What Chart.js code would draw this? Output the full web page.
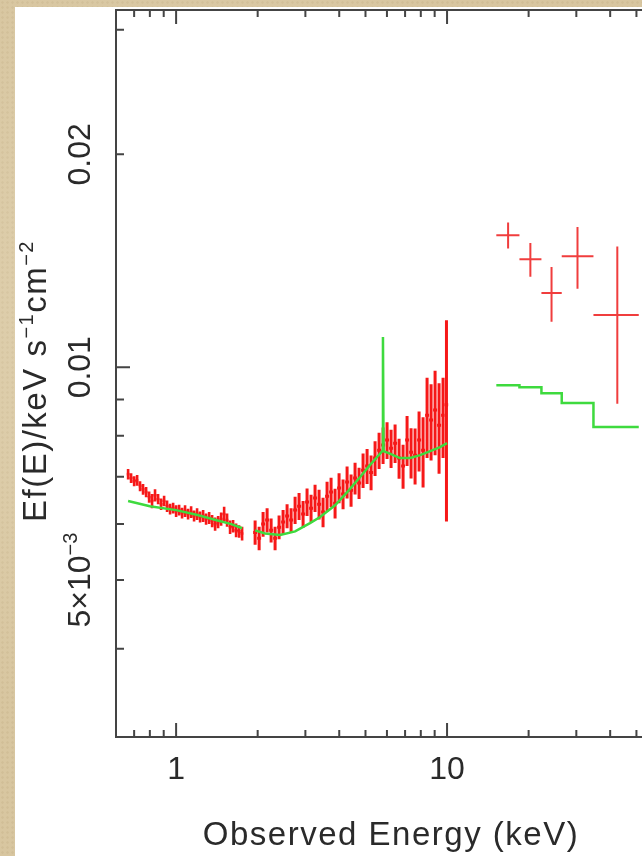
<!DOCTYPE html>
<html>
<head>
<meta charset="utf-8">
<script src="https://cdn.jsdelivr.net/npm/chart.js@4.4.1/dist/chart.umd.min.js"></script>
<style>
  html, body { margin: 0; padding: 0; width: 642px; height: 856px; overflow: hidden; }
  body {
    background-color: #d8c6a0;
    background-image:
      radial-gradient(circle at 30% 40%, rgba(255,250,235,0.25) 0, transparent 60%),
      radial-gradient(rgba(120,90,40,0.07) 1px, transparent 1.5px);
    background-size: 100% 100%, 5px 5px;
    position: relative;
  }
  #c { position: absolute; left: 15px; top: 7px; background: #ffffff; }
</style>
</head>
<body>
<canvas id="c" width="740" height="849"></canvas>
<script>
// ---------------- data ----------------
// soft band, first instrument segment (keV, Ef(E), 1-sigma)
const seg1Energy = [0.665,0.682,0.700,0.718,0.736,0.755,0.775,0.795,0.815,0.836,0.858,0.880,0.903,0.926,0.950,0.975,1.000,1.026,1.052,1.079,1.107,1.136,1.165,1.195,1.226,1.258,1.290,1.324,1.358,1.393,1.429,1.466,1.504,1.542,1.582,1.623,1.665,1.708,1.752];
const seg1Flux   = [0.00706,0.00697,0.00690,0.00692,0.00679,0.00672,0.00666,0.00655,0.00647,0.00659,0.00651,0.00640,0.00647,0.00636,0.00630,0.00632,0.00626,0.00628,0.00622,0.00626,0.00620,0.00624,0.00616,0.00620,0.00614,0.00616,0.00610,0.00612,0.00606,0.00600,0.00604,0.00610,0.00620,0.00608,0.00594,0.00596,0.00588,0.00586,0.00582];
const seg1Err    = [0.00012,0.00011,0.00011,0.00012,0.00011,0.00012,0.00011,0.00012,0.00015,0.00013,0.00011,0.00012,0.00011,0.00012,0.00011,0.00011,0.00012,0.00011,0.00011,0.00012,0.00011,0.00012,0.00011,0.00012,0.00011,0.00012,0.00011,0.00012,0.00012,0.00013,0.00012,0.00013,0.00015,0.00013,0.00013,0.00012,0.00013,0.00012,0.00013];

// soft band, second segment 2-10 keV
const seg2Energy = [1.957,2.025,2.094,2.167,2.242,2.319,2.399,2.482,2.568,2.657,2.749,2.843,2.942,3.043,3.148,3.257,3.370,3.486,3.607,3.732,3.861,3.994,4.132,4.276,4.423,4.576,4.734,4.898,5.068,5.243,5.424,5.612,5.806,6.006,6.214,6.429,6.651,6.881,7.119,7.365,7.620,7.883,8.156,8.438,8.730,9.032,9.343,9.666,9.950];
const seg2Flux   = [0.00584,0.00573,0.00600,0.00608,0.00588,0.00573,0.00594,0.00604,0.00616,0.00608,0.00628,0.00636,0.00620,0.00645,0.00632,0.00653,0.00640,0.00624,0.00657,0.00666,0.00642,0.00675,0.00662,0.00688,0.00670,0.00697,0.00686,0.00715,0.00725,0.00710,0.00744,0.00763,0.00776,0.00789,0.00768,0.00781,0.00744,0.00725,0.00789,0.00758,0.00751,0.00789,0.00763,0.00855,0.00842,0.00870,0.00828,0.00855,0.00885];
const seg2Err    = [0.00023,0.00022,0.00024,0.00024,0.00023,0.00022,0.00023,0.00024,0.00024,0.00024,0.00028,0.00028,0.00027,0.00029,0.00028,0.00029,0.00031,0.00030,0.00032,0.00032,0.00031,0.00033,0.00032,0.00036,0.00035,0.00036,0.00035,0.00040,0.00041,0.00040,0.00042,0.00045,0.00046,0.00047,0.00048,0.00049,0.000484,0.000519,0.000642,0.000617,0.000684,0.000770,0.000870,0.00111,0.00104,0.00119,0.00121,0.00111,0.00280];

// hard band (binned)
const hardEnergy = [16.8, 20.3, 24.3, 30.3, 42.5];
const hardLo     = [15.2, 18.5, 22.3, 26.5, 34.7];
const hardHi     = [18.5, 22.3, 26.5, 34.7, 51.0];
const hardFlux   = [0.01537, 0.01421, 0.01273, 0.01435, 0.01185];
const hardErr    = [0.00065, 0.00078, 0.00113, 0.00144, 0.00297];

// model curves
const model1Energy = [0.665, 0.8, 1.0, 1.2, 1.4, 1.6, 1.752];
const model1Flux   = [0.00647, 0.00636, 0.00628, 0.00618, 0.00608, 0.00600, 0.00592];
const model2Energy = [1.957, 2.13, 2.42, 2.75, 3.12, 3.40, 3.86, 4.28, 4.77, 5.19, 5.56, 5.77, 5.80, 5.83, 6.15, 6.70, 7.31, 7.96, 8.67, 9.42, 10.0];
const model2Flux   = [0.00588, 0.00582, 0.00579, 0.00586, 0.00602, 0.00614, 0.00638, 0.00666, 0.00699, 0.00727, 0.00749, 0.00761, 0.01103, 0.00761, 0.00755, 0.00744, 0.00744, 0.00751, 0.00761, 0.00771, 0.00781];
const hardModelEdges = [15.2, 18.5, 22.3, 26.5, 34.7, 51.0];
const hardModelFlux  = [0.00943, 0.00937, 0.00919, 0.00890, 0.00823];

// axes
const xMin = 0.6, xMax = 100;
const yMin = 0.003, yMax = 0.032;
const xTickValues = [0.7,0.8,0.9,1,2,3,4,5,6,7,8,9,10,20,30,40,50,60,70,80,90,100];
const xMajorTicks = [1, 10, 100];
const xLabelValues = [1, 10];
const xLabelTexts  = ['1', '10'];
const yTickValues = [0.003,0.004,0.005,0.006,0.007,0.008,0.009,0.01,0.02,0.03];
const yMajorTicks = [0.01];
const yLabelValues = [0.005, 0.01, 0.02];
const yLabelTexts  = [[['5×10',0],['−3',1]], [['0.01',0]], [['0.02',0]]];
const xTitle = 'Observed Energy (keV)';
const yTitle = [['Ef(E)/keV s',0],['−1',1],['cm',0],['−2',1]];

// ---------------- build library datasets ----------------
function crossPoints(E, F, err, lo, hi) {
  const pts = [];
  for (let i = 0; i < E.length; i++) {
    let l, h;
    if (lo) { l = lo[i]; h = hi[i]; }
    else {
      l = i > 0 ? Math.sqrt(E[i-1]*E[i]) : E[i] * E[i] / Math.sqrt(E[i]*E[i+1]);
      h = i < E.length-1 ? Math.sqrt(E[i]*E[i+1]) : E[i] * E[i] / Math.sqrt(E[i-1]*E[i]);
    }
    pts.push({x:l, y:F[i]}, {x:h, y:F[i]}, {x:E[i], y:null},
             {x:E[i], y:F[i]-err[i]}, {x:E[i], y:F[i]+err[i]}, {x:E[i], y:null});
  }
  return pts;
}
const soft1Cross = crossPoints(seg1Energy, seg1Flux, seg1Err);
const soft2Cross = crossPoints(seg2Energy, seg2Flux, seg2Err);
const hardCross = crossPoints(hardEnergy, hardFlux, hardErr, hardLo, hardHi);
const modelPts = model1Energy.map((e,i)=>({x:e, y:model1Flux[i]}))
  .concat([{x:1.85, y:null}])
  .concat(model2Energy.map((e,i)=>({x:e, y:model2Flux[i]})));
const hardModelPts = hardModelEdges.map((e,i)=>({x:e, y:hardModelFlux[Math.min(i, hardModelFlux.length-1)]}));

const RED = 'rgb(246,24,24)';
const GREEN = 'rgb(62,218,62)';
const FONT = '"Liberation Sans", Arial, Helvetica, sans-serif';

function drawParts(ctx, parts, size, spacing) {
  const sup = Math.round(size * 0.62);
  ctx.letterSpacing = spacing + 'px';
  let total = 0;
  const ws = parts.map(p => { ctx.font = (p[1] ? sup : size) + 'px ' + FONT; const w = ctx.measureText(p[0]).width; total += w; return w; });
  let xx = -total / 2;
  ctx.textAlign = 'left'; ctx.textBaseline = 'alphabetic';
  parts.forEach((p, i) => {
    ctx.font = (p[1] ? sup : size) + 'px ' + FONT;
    ctx.fillText(p[0], xx, p[1] ? -size * 0.40 : 0);
    xx += ws[i];
  });
}

const framePlugin = {
  id: 'frame',
  afterDraw(chart) {
    const {ctx, chartArea: a, scales: {x, y}} = chart;
    ctx.save();
    ctx.strokeStyle = '#444';
    ctx.lineWidth = 2;
    ctx.beginPath();
    ctx.rect(a.left, a.top, a.right - a.left, a.bottom - a.top);
    x.ticks.forEach(t => {
      const px = x.getPixelForValue(t.value);
      const len = xMajorTicks.includes(t.value) ? 14 : 7;
      ctx.moveTo(px, a.bottom); ctx.lineTo(px, a.bottom - len);
      ctx.moveTo(px, a.top); ctx.lineTo(px, a.top + len);
    });
    y.ticks.forEach(t => {
      const py = y.getPixelForValue(t.value);
      const len = yMajorTicks.includes(t.value) ? 14 : 8;
      ctx.moveTo(a.left, py); ctx.lineTo(a.left + len, py);
      ctx.moveTo(a.right, py); ctx.lineTo(a.right - len, py);
    });
    ctx.stroke();

    ctx.fillStyle = '#2a2a2a';
    // y tick labels (rotated)
    yLabelValues.forEach((v, i) => {
      ctx.save();
      ctx.translate(a.left - 26, y.getPixelForValue(v));
      ctx.rotate(-Math.PI / 2);
      drawParts(ctx, yLabelTexts[i], 32, 0);
      ctx.restore();
    });
    // y title
    ctx.save();
    ctx.translate(31, 374);
    ctx.rotate(-Math.PI / 2);
    drawParts(ctx, yTitle, 33, 1.5);
    ctx.restore();
    // x title
    ctx.save();
    ctx.translate(376, 838);
    drawParts(ctx, [[xTitle, 0]], 33, 1.5);
    ctx.restore();
    ctx.restore();
  }
};

new Chart(document.getElementById('c'), {
  type: 'scatter',
  data: {
    datasets: [
      { label: 'model', data: modelPts, showLine: true, borderColor: GREEN, borderWidth: 2.5,
        pointRadius: 0, spanGaps: false, tension: 0, order: 0 },
      { label: 'model hard', data: hardModelPts, showLine: true, stepped: 'before', borderColor: GREEN,
        borderWidth: 2.5, pointRadius: 0, order: 0 },
      { label: 'data soft 1', data: soft1Cross, showLine: true, borderColor: RED, borderWidth: 2.6,
        pointRadius: 0, spanGaps: false, order: 1 },
      { label: 'data soft 2', data: soft2Cross, showLine: true, borderColor: RED, borderWidth: 3,
        pointRadius: 0, spanGaps: false, order: 1 },
      { label: 'data hard', data: hardCross, showLine: true, borderColor: 'rgba(238,40,40,0.9)', borderWidth: 2,
        pointRadius: 0, spanGaps: false, order: 1 }
    ]
  },
  options: {
    responsive: false,
    animation: false,
    devicePixelRatio: 1,
    layout: { padding: { left: 101, right: 37, top: 3, bottom: 59 } },
    plugins: { legend: { display: false }, tooltip: { enabled: false } },
    scales: {
      x: {
        type: 'logarithmic', min: xMin, max: xMax, position: 'bottom',
        afterBuildTicks: s => { s.ticks = xTickValues.map(v => ({ value: v })); },
        afterFit: s => { s.height = 60; },
        grid: { display: false }, border: { display: false },
        ticks: {
          autoSkip: false, maxRotation: 0, minRotation: 0, padding: 6, color: '#2a2a2a',
          font: { family: FONT, size: 32 },
          callback: v => { const k = xLabelValues.indexOf(v); return k >= 0 ? xLabelTexts[k] : ''; }
        }
      },
      y: {
        type: 'logarithmic', min: yMin, max: yMax, position: 'left',
        afterBuildTicks: s => { s.ticks = yTickValues.map(v => ({ value: v })); },
        afterFit: s => { s.width = 0; },
        grid: { display: false }, border: { display: false },
        ticks: { display: false }
      }
    }
  },
  plugins: [framePlugin]
});
</script>
</body>
</html>
